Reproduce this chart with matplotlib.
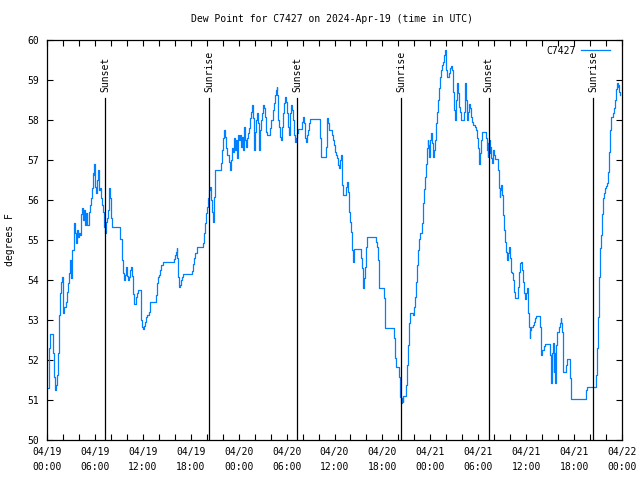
#!/usr/bin/env python3
"""Dew point time series for station C7427, gnuplot-like look."""
import matplotlib
matplotlib.use("Agg")
import matplotlib.pyplot as plt
import numpy as np

# --- Data: hours since 2024-04-19 00:00 UTC, dew point in degrees F ---
hours = [
    0.0, 0.25, 0.42, 0.75, 0.92, 1.04, 1.17, 1.29, 1.42, 1.54, 1.67, 1.79, 1.92,
    2.05, 2.17, 2.34, 2.46, 2.59, 2.71, 2.84, 2.92, 3.05, 3.17, 3.34, 3.42, 3.55,
    3.67, 3.8, 3.92, 4.05, 4.17, 4.3, 4.42, 4.55, 4.67, 4.8, 4.93, 5.05, 5.22,
    5.34, 5.47, 5.59, 5.72, 5.84, 5.93, 6.01, 6.14, 6.26, 6.39, 6.51, 6.64, 6.72,
    6.85, 6.97, 7.1, 7.22, 7.35, 7.47, 7.6, 7.72, 7.85, 7.97, 8.1, 9.1, 9.2,
    9.39, 9.56, 9.68, 9.81, 9.93, 10.06, 10.18, 10.31, 10.43, 10.56, 10.68,
    10.73, 10.85, 11.19, 11.31, 11.44, 11.73, 11.81, 11.9, 11.98, 12.1, 12.23,
    12.36, 12.48, 12.73, 12.86, 12.94, 13.69, 13.81, 13.94, 14.06, 14.19, 14.32,
    14.49, 15.9, 16.03, 16.15, 16.24, 16.32, 16.4, 16.49, 16.61, 16.74, 16.86,
    16.99, 18.11, 18.24, 18.41, 18.57, 18.74, 19.58, 19.7, 19.83, 19.95, 20.08,
    20.2, 20.33, 20.45, 20.58, 20.7, 20.83, 20.95, 21.08, 21.79, 21.87, 22.0,
    22.12, 22.25, 22.37, 22.5, 22.75, 22.87, 23.0, 23.12, 23.25, 23.37, 23.5,
    23.62, 23.75, 23.88, 24.0, 24.13, 24.25, 24.38, 24.5, 24.63, 24.75, 24.88,
    25.0, 25.13, 25.25, 25.38, 25.5, 25.63, 25.75, 25.88, 25.96, 26.09, 26.21,
    26.34, 26.46, 26.55, 26.67, 26.8, 26.88, 27.0, 27.13, 27.26, 27.42, 27.55,
    27.92, 28.05, 28.3, 28.43, 28.55, 28.68, 28.76, 28.84, 28.97, 29.1, 29.22,
    29.35, 29.47, 29.6, 29.72, 29.85, 29.97, 30.1, 30.22, 30.35, 30.47, 30.6,
    30.72, 30.85, 30.97, 31.05, 31.18, 31.3, 31.43, 31.93, 32.05, 32.18, 32.27,
    32.39, 32.52, 32.64, 32.77, 32.89, 33.02, 34.19, 34.27, 34.93, 35.06, 35.18,
    35.31, 35.69, 35.81, 35.94, 36.06, 36.15, 36.36, 36.48, 36.61, 36.73, 36.86,
    36.98, 37.11, 37.44, 37.57, 37.69, 37.77, 37.9, 38.11, 38.23, 38.32, 38.44,
    39.36, 39.49, 39.61, 39.74, 39.86, 39.99, 40.11, 41.24, 41.36, 41.49, 41.57,
    42.24, 42.32, 43.45, 43.53, 43.66, 44.12, 44.2, 44.33, 44.45, 44.54, 44.62,
    44.95, 45.08, 45.2, 45.33, 45.45, 45.83, 45.96, 46.08, 46.21, 46.33, 46.46,
    46.58, 46.71, 46.96, 47.08, 47.21, 47.33, 47.46, 47.54, 47.67, 47.75, 47.84,
    47.96, 48.09, 48.21, 48.34, 48.46, 48.59, 48.71, 48.84, 48.96, 49.09, 49.21,
    49.34, 49.46, 49.59, 49.71, 49.84, 49.92, 50.0, 50.09, 50.34, 50.46, 50.59,
    50.67, 50.8, 50.88, 51.0, 51.09, 51.21, 51.34, 51.42, 51.55, 51.67, 51.8,
    52.17, 52.3, 52.38, 52.51, 52.63, 52.72, 52.84, 52.97, 53.09, 53.22, 53.34,
    53.59, 53.72, 53.84, 53.97, 54.05, 54.13, 54.22, 54.35, 54.51, 55.01, 55.1,
    55.18, 55.27, 55.35, 55.43, 55.51, 55.6, 55.68, 55.81, 55.89, 56.02, 56.14,
    56.52, 56.6, 56.69, 56.77, 56.9, 57.02, 57.1, 57.23, 57.35, 57.48, 57.6,
    57.73, 57.86, 57.98, 58.11, 58.23, 58.36, 58.48, 58.61, 58.98, 59.11, 59.23,
    59.36, 59.48, 59.61, 59.74, 59.86, 59.99, 60.11, 60.19, 60.28, 60.36, 60.44,
    60.53, 60.65, 60.82, 60.94, 61.07, 61.2, 61.74, 61.82, 61.9, 62.03, 62.15,
    62.28, 62.4, 62.99, 63.11, 63.19, 63.32, 63.44, 63.53, 63.61, 63.69, 63.78,
    63.9, 64.11, 64.24, 64.32, 64.4, 64.49, 64.57, 64.65, 64.99, 65.11, 65.49,
    65.57, 67.55, 67.67, 68.7, 68.83, 68.95, 69.08, 69.2, 69.33, 69.45, 69.58,
    69.7, 69.83, 69.96, 70.08, 70.21, 70.33, 70.46, 70.58, 70.87, 71.0, 71.12,
    71.25, 71.37, 71.46, 71.54, 71.62, 71.71,
]
dewpoint = [
    51.3, 52.29, 52.65, 52.17, 51.58, 51.25, 51.38, 51.63, 52.18, 53.13, 53.68,
    53.96, 54.07, 53.17, 53.33, 53.46, 53.7, 53.92, 54.17, 54.38, 54.5, 54.04,
    54.75, 55.21, 55.43, 55.17, 54.92, 55.25, 55.07, 55.17, 55.13, 55.65, 55.79,
    55.5, 55.75, 55.38, 55.67, 55.38, 55.71, 55.88, 56.04, 56.29, 56.68, 56.63,
    56.9, 56.33, 56.17, 56.5, 56.75, 56.25, 56.29, 56.04, 55.88, 55.71, 55.33,
    55.18, 55.46, 55.54, 55.75, 56.29, 56.04, 55.54, 55.32, 55.25, 55.02, 54.5,
    54.17, 54.0, 54.12, 54.33, 54.1, 54.0, 54.08, 54.25, 54.33, 54.1, 53.65,
    53.4, 53.58, 53.67, 53.75, 53.52, 53.0, 52.83, 52.77, 52.85, 52.96, 53.08,
    53.13, 53.21, 53.38, 53.46, 53.63, 53.92, 54.08, 54.12, 54.25, 54.38, 54.44,
    54.52, 54.63, 54.7, 54.79, 54.54, 54.07, 53.83, 53.88, 54.0, 54.08, 54.14,
    54.23, 54.4, 54.54, 54.68, 54.82, 54.92, 55.17, 55.42, 55.67, 55.83, 56.04,
    56.25, 56.33, 56.0, 55.71, 55.46, 56.08, 56.75, 56.92, 57.25, 57.54, 57.75,
    57.58, 57.29, 57.13, 56.96, 56.75, 57.0, 57.29, 57.21, 57.54, 57.25, 57.5,
    57.04, 57.63, 57.5, 57.63, 57.33, 57.58, 57.25, 57.83, 57.5, 57.33, 57.54,
    57.67, 57.79, 58.04, 58.21, 58.38, 58.04, 57.54, 57.25, 57.71, 58.0, 58.17,
    57.92, 57.25, 57.75, 58.0, 58.17, 58.38, 58.29, 58.08, 57.71, 57.63, 57.79,
    58.0, 58.25, 58.42, 58.63, 58.75, 58.82, 58.63, 58.0, 57.83, 57.58, 57.5,
    57.83, 58.17, 58.42, 58.58, 58.46, 58.17, 57.83, 57.63, 58.17, 58.38, 58.25,
    58.0, 57.63, 57.46, 57.54, 57.67, 57.77, 57.96, 58.08, 57.92, 57.54, 57.46,
    57.63, 57.75, 57.92, 58.02, 58.03, 57.54, 57.07, 57.33, 58.04, 57.92, 57.75,
    57.63, 57.5, 57.38, 57.21, 57.13, 57.04, 56.88, 56.79, 57.0, 57.13, 56.38,
    56.13, 56.33, 56.46, 56.21, 55.71, 55.46, 55.21, 54.75, 54.46, 54.77, 54.54,
    54.29, 53.79, 54.04, 54.33, 54.83, 55.08, 54.96, 54.83, 54.5, 53.79, 53.54,
    52.79, 52.54, 52.04, 51.82, 51.58, 51.08, 50.92, 51.04, 50.95, 51.1, 51.38,
    51.88, 52.38, 52.92, 53.17, 53.13, 53.33, 53.58, 53.96, 54.38, 54.75, 55.02,
    55.17, 55.42, 55.92, 56.27, 56.58, 56.9, 57.29, 57.5, 57.38, 57.08, 57.5,
    57.68, 57.42, 57.08, 57.25, 57.5, 57.92, 58.21, 58.5, 58.79, 59.08, 59.25,
    59.38, 59.46, 59.63, 59.75, 59.58, 59.25, 59.07, 59.17, 59.29, 59.35, 59.25,
    59.04, 58.71, 58.25, 58.0, 58.5, 58.93, 58.67, 58.33, 58.21, 58.0, 58.21,
    58.71, 58.93, 58.5, 58.0, 58.21, 58.4, 58.29, 58.08, 57.96, 57.88, 57.83,
    57.75, 57.54, 57.29, 57.04, 56.9, 57.17, 57.5, 57.69, 57.54, 57.25, 57.08,
    57.42, 57.5, 57.17, 57.33, 57.04, 56.92, 57.13, 57.25, 57.13, 57.02, 56.75,
    56.29, 56.08, 56.25, 56.38, 56.13, 55.63, 55.25, 54.96, 54.71, 54.5, 54.67,
    54.83, 54.54, 54.21, 54.17, 54.0, 53.71, 53.54, 53.83, 54.21, 54.42, 54.46,
    54.25, 53.96, 53.67, 53.52, 53.67, 53.79, 53.5, 53.17, 52.83, 52.54, 52.75,
    52.83, 52.88, 52.96, 53.04, 53.1, 52.83, 52.38, 52.13, 52.25, 52.25, 52.35,
    52.4, 52.13, 51.42, 52.17, 52.42, 51.71, 52.17, 51.42, 51.75, 52.37, 52.71,
    52.83, 52.92, 53.04, 52.92, 52.71, 52.08, 51.71, 51.88, 52.02, 51.54, 51.02,
    51.25, 51.32, 51.63, 52.29, 53.08, 54.08, 54.79, 55.13, 55.65, 56.04, 56.18,
    56.29, 56.35, 56.43, 56.71, 57.21, 57.75, 58.08, 58.18, 58.29, 58.5, 58.77,
    58.93, 58.83, 58.88, 58.71, 58.63,
]

sun_hours = [7.3, 20.3, 31.35, 44.37, 55.3, 68.41]
sun_labels = ["Sunset", "Sunrise", "Sunset", "Sunrise", "Sunset", "Sunrise"]

tick_hours = list(range(0, 73, 6))
tick_labels = [
    "04/19\n00:00", "04/19\n06:00", "04/19\n12:00", "04/19\n18:00",
    "04/20\n00:00", "04/20\n06:00", "04/20\n12:00", "04/20\n18:00",
    "04/21\n00:00", "04/21\n06:00", "04/21\n12:00", "04/21\n18:00",
    "04/22\n00:00",
]

plt.rcParams["font.family"] = "DejaVu Sans Mono"
plt.rcParams["font.size"] = 7

fig = plt.figure(figsize=(6.4, 4.8), dpi=100)
ax = fig.add_axes([47 / 640, 40 / 480, 575 / 640, 400 / 480])

ax.plot(hours, dewpoint, drawstyle="steps-post", color="#0080ff", lw=0.9,
        label="C7427")

# --- sunrise / sunset markers ---
for h, lab in zip(sun_hours, sun_labels):
    ax.plot([h, h], [50, 58.55], color="black", lw=0.9)
    ax.text(h, 58.7, lab, rotation=90, ha="center", va="bottom")

ax.set_xlim(0, 72)
ax.set_ylim(50, 60)
ax.set_xticks(tick_hours)
ax.set_xticklabels(tick_labels, linespacing=1.6)
ax.set_xticks(np.arange(0, 73, 2), minor=True)
ax.set_yticks(np.arange(50, 61, 1))
ax.tick_params(which="both", direction="in", top=True, right=True,
               length=4, width=0.8)
ax.tick_params(axis="x", pad=5)
ax.tick_params(axis="y", pad=6)
for s in ax.spines.values():
    s.set_linewidth(0.9)

fig.text(332 / 640, 1 - 19 / 480, "Dew Point for C7427 on 2024-Apr-19 (time in UTC)",
         ha="center", va="center")
fig.text(10 / 640, 0.5, "degrees F", rotation=90, ha="center", va="center")

ax.legend(loc="upper right", bbox_to_anchor=(0.99, 1.0), frameon=False,
          markerfirst=False, handlelength=3.0, handletextpad=0.6,
          borderaxespad=0.2)

fig.savefig("out.png", dpi=100)
